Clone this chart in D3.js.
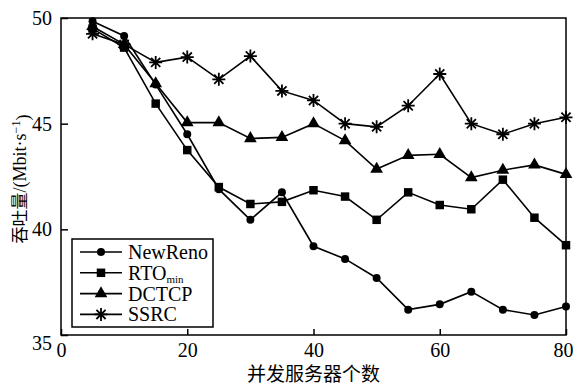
<!DOCTYPE html>
<html>
<head>
<meta charset="utf-8">
<script src="https://cdn.jsdelivr.net/npm/d3@7"></script>
<style>
  body { margin: 0; background: #fff; }
  text { font-family: "Liberation Serif", "DejaVu Serif", serif; fill: #000; }
  .cjk { font-family: "Noto Sans CJK SC", sans-serif; }
</style>
</head>
<body>
<svg id="chart" width="573" height="390"></svg>
<script>
const servers = [5, 10, 15, 20, 25, 30, 35, 40, 45, 50, 55, 60, 65, 70, 75, 80];
const newReno = [49.85, 49.15, 46.85, 44.5, 41.9, 40.45, 41.75, 39.2, 38.6, 37.7, 36.2, 36.45, 37.05, 36.2, 35.95, 36.35];
const rtoMin = [49.5, 48.6, 45.95, 43.75, 42.0, 41.2, 41.3, 41.85, 41.55, 40.45, 41.75, 41.15, 40.95, 42.35, 40.55, 39.25];
const dctcp = [49.6, 48.75, 46.9, 45.05, 45.05, 44.3, 44.35, 45.0, 44.2, 42.85, 43.5, 43.55, 42.45, 42.8, 43.05, 42.6];
const ssrc = [49.25, 48.75, 47.9, 48.15, 47.1, 48.2, 46.55, 46.1, 45.0, 44.85, 45.85, 47.35, 45.0, 44.5, 45.0, 45.3];
const xTicks = [0, 20, 40, 60, 80];
const yTicks = [35, 40, 45, 50];

const series = [
  { name: "NewReno", values: newReno, marker: "circle" },
  { name: "RTO", sub: "min", values: rtoMin, marker: "square" },
  { name: "DCTCP", values: dctcp, marker: "triangle" },
  { name: "SSRC", values: ssrc, marker: "asterisk" },
];

const svg = d3.select("#chart");
const margin = { left: 61, right: 7, top: 18, bottom: 55 };
const width = 573 - margin.left - margin.right;
const height = 390 - margin.top - margin.bottom;

const x = d3.scaleLinear().domain([0, 80]).range([0, width]);
const y = d3.scaleLinear().domain([35, 50]).range([height, 0]);

const g = svg.append("g").attr("transform", `translate(${margin.left},${margin.top})`);

// frame
g.append("rect")
  .attr("width", width)
  .attr("height", height)
  .attr("fill", "none")
  .attr("stroke", "#000")
  .attr("stroke-width", 1.5);

// axes with inward ticks
const xAxis = g.append("g")
  .attr("transform", `translate(0,${height})`)
  .call(d3.axisBottom(x).tickValues(xTicks).tickSizeInner(-6).tickSizeOuter(0).tickPadding(8));
const yAxis = g.append("g")
  .call(d3.axisLeft(y).tickValues(yTicks).tickSizeInner(-7).tickSizeOuter(0).tickPadding(9));

[xAxis, yAxis].forEach((a) => {
  a.select(".domain").remove();
  a.selectAll("line").attr("stroke", "#000").attr("stroke-width", 1.5);
  a.selectAll("text")
    .style("font-family", "Liberation Serif, serif")
    .style("font-size", "20px")
    .attr("fill", "#000");
});
yAxis.selectAll(".tick").filter((d) => d === 35).select("text").attr("dy", "0.7em");
xAxis.selectAll(".tick").filter((d) => d === 80).select("text").attr("dx", "-3");

// symbols
const symbolFor = {
  circle: d3.symbol(d3.symbolCircle, 50),
  square: d3.symbol(d3.symbolSquare, 72),
  triangle: d3.symbol(d3.symbolTriangle, 70),
};

function drawMarker(sel, type) {
  if (type === "asterisk") {
    const r = 6.5;
    const p = d3.path();
    for (let i = 0; i < 4; i++) {
      const a = (i * Math.PI) / 4;
      p.moveTo(-r * Math.cos(a), -r * Math.sin(a));
      p.lineTo(r * Math.cos(a), r * Math.sin(a));
    }
    sel.append("path").attr("d", p.toString()).attr("stroke", "#000").attr("stroke-width", 1.8).attr("fill", "none");
  } else {
    sel.append("path").attr("d", symbolFor[type]()).attr("fill", "#000");
  }
}

const line = d3.line()
  .x((d, i) => x(servers[i]))
  .y((d) => y(d));

series.forEach((s) => {
  g.append("path")
    .datum(s.values)
    .attr("d", line)
    .attr("fill", "none")
    .attr("stroke", "#000")
    .attr("stroke-width", 1.6);

  g.selectAll(null)
    .data(s.values)
    .join("g")
    .attr("transform", (d, i) => `translate(${x(servers[i])},${y(d)})`)
    .each(function () { drawMarker(d3.select(this), s.marker); });
});

// legend
const legend = g.append("g").attr("transform", "translate(11,221)");
legend.append("rect")
  .attr("width", 141)
  .attr("height", 88)
  .attr("fill", "#fff")
  .attr("stroke", "#000")
  .attr("stroke-width", 1.5);

series.forEach((s, i) => {
  const row = legend.append("g").attr("transform", `translate(0,${13 + i * 20.8})`);
  row.append("line").attr("x1", 8).attr("x2", 50).attr("stroke", "#000").attr("stroke-width", 1.6);
  drawMarker(row.append("g").attr("transform", "translate(29,0)"), s.marker);
  const t = row.append("text").attr("x", 56).attr("dy", "0.35em").style("font-size", "20px").text(s.name);
  if (s.sub) t.append("tspan").attr("dy", "0.25em").style("font-size", "11px").text(s.sub);
});

// axis titles
svg.append("text")
  .attr("class", "cjk")
  .attr("x", margin.left + width / 2)
  .attr("y", 381)
  .attr("text-anchor", "middle")
  .style("font-size", "19px")
  .text("并发服务器个数");

const yt = svg.append("text")
  .attr("transform", `translate(26,179) rotate(-90)`)
  .attr("text-anchor", "middle")
  .style("font-size", "18px");
yt.append("tspan").attr("class", "cjk").style("font-size", "17px").text("吞吐量");
yt.append("tspan").text("/(Mbit·s");
yt.append("tspan").attr("dy", "-0.5em").style("font-size", "12px").text("−1");
yt.append("tspan").attr("dy", "0.5em").text(")");
</script>
</body>
</html>
